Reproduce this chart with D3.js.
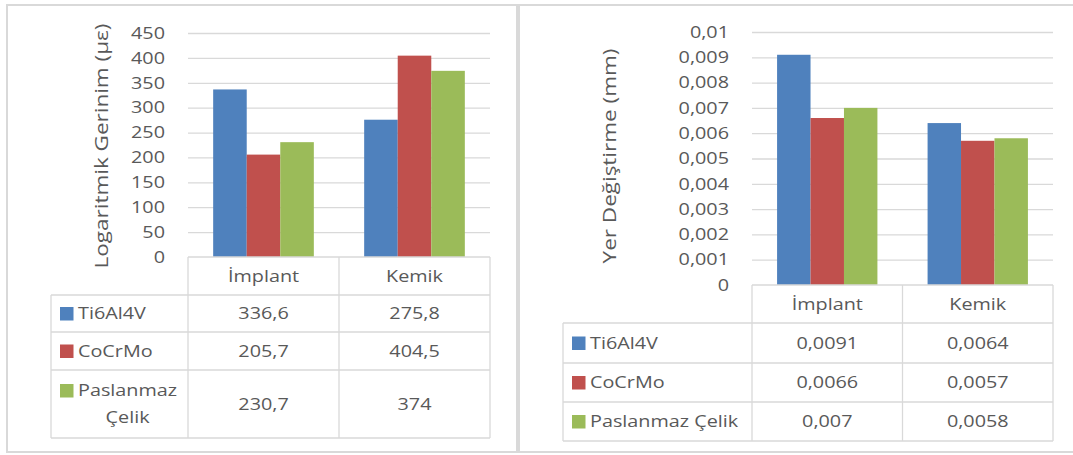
<!DOCTYPE html>
<html><head><meta charset="utf-8">
<script src="https://cdn.jsdelivr.net/npm/d3@7"></script>
<style>
html,body{margin:0;padding:0;background:#fff;}
svg{display:block;}
text{font-family:"Open Sans",sans-serif;fill:#595959;}
</style></head>
<body>
<svg id="chart" width="1073" height="455"></svg>
<script>
// ---- data ----
const categories = ["İmplant", "Kemik"];
const seriesNames = ["Ti6Al4V", "CoCrMo", "Paslanmaz Çelik"];
const seriesColors = ["#4f81bd", "#c0504d", "#9bbb59"];

const strainTi = [336.6, 275.8];
const strainCo = [205.7, 404.5];
const strainSS = [230.7, 374];
const strainTicks = [0, 50, 100, 150, 200, 250, 300, 350, 400, 450];
const strainTitle = "Logaritmik Gerinim (µε)";

const dispTi = [0.0091, 0.0064];
const dispCo = [0.0066, 0.0057];
const dispSS = [0.007, 0.0058];
const dispTicks = [0, 0.001, 0.002, 0.003, 0.004, 0.005, 0.006, 0.007, 0.008, 0.009, 0.01];
const dispTitle = "Yer Değiştirme (mm)";

// ---- helpers ----
const SX = 1.2;          // horizontal text stretch
const FS = 16.5;         // font size
const TFS = 18;          // title font size
const TSX = 1.25;        // title stretch along its length
const GRID = "#d9d9d9";
const comma = v => String(+v.toPrecision(6)).replace(".", ",");

const svg = d3.select("#chart");

function drawChart(cfg) {
  const g = svg.append("g");
  // frame
  g.append("rect").attr("x", cfg.frame[0]).attr("y", cfg.frame[1])
    .attr("width", cfg.frame[2] - cfg.frame[0]).attr("height", cfg.frame[3] - cfg.frame[1])
    .attr("fill", "none").attr("stroke", GRID).attr("stroke-width", 2);

  const x = d3.scaleBand().domain(categories).range([cfg.x0, cfg.x1]);
  const xs = d3.scaleBand().domain(seriesNames).range([0, x.bandwidth()])
    .paddingInner(0).paddingOuter(0.75);
  const y = d3.scaleLinear().domain([0, d3.max(cfg.ticks)]).range([cfg.yBot, cfg.yTop]);

  // axis with gridlines
  const ax = g.append("g").attr("transform", `translate(${cfg.x0},0)`)
    .call(d3.axisLeft(y).tickValues(cfg.ticks).tickSize(-(cfg.x1 - cfg.x0))
      .tickPadding(0).tickFormat(comma));
  ax.select(".domain").remove();
  ax.selectAll(".tick line").attr("stroke", GRID).attr("stroke-width", 1.3)
    .attr("opacity", d => d === 0 ? 0 : 1);
  ax.selectAll(".tick text").attr("x", null)
    .attr("transform", `translate(-23,0) scale(${SX},1)`)
    .style("font-size", FS + "px").attr("fill", "#595959").attr("font-family", null);

  // bars
  const series = cfg.values.map((vals, i) => ({ name: seriesNames[i], color: seriesColors[i], vals }));
  series.forEach(s => {
    g.append("g").selectAll("rect").data(categories.map((c, j) => ({ c, v: s.vals[j] })))
      .join("rect")
      .attr("x", d => x(d.c) + xs(s.name))
      .attr("width", xs.bandwidth())
      .attr("y", d => y(d.v))
      .attr("height", d => y(0) - y(d.v))
      .attr("fill", s.color);
  });

  // y title
  g.append("text")
    .attr("transform", `translate(${cfg.titleX},${cfg.titleY}) rotate(-90) scale(${TSX},1)`)
    .attr("text-anchor", "middle").attr("dy", "0.35em")
    .style("font-size", TFS + "px").text(cfg.title);

  // data table
  const r = cfg.rows;
  const t = g.append("g").attr("stroke", GRID).attr("stroke-width", 1.3).attr("fill", "none");
  t.append("line").attr("x1", cfg.x0).attr("x2", cfg.x1).attr("y1", r[0]).attr("y2", r[0]);
  for (let i = 1; i < r.length; i++)
    t.append("line").attr("x1", cfg.tableLeft).attr("x2", cfg.x1).attr("y1", r[i]).attr("y2", r[i]);
  t.append("line").attr("x1", cfg.tableLeft).attr("x2", cfg.tableLeft).attr("y1", r[1]).attr("y2", r[r.length - 1]);
  [cfg.x0, ...categories.map(c => x(c) + x.bandwidth())].forEach(xx =>
    t.append("line").attr("x1", xx).attr("x2", xx).attr("y1", r[0]).attr("y2", r[r.length - 1]));

  const txt = (px, py, s, anchor) => g.append("text")
    .attr("transform", `translate(${px},${py}) scale(${SX},1)`)
    .attr("text-anchor", anchor || "middle").attr("dy", "0.35em")
    .style("font-size", FS + "px").text(s);

  categories.forEach(c => txt(x(c) + x.bandwidth() / 2, (r[0] + r[1]) / 2, c));

  series.forEach((s, i) => {
    const top = r[i + 1], bot = r[i + 2], mid = (top + bot) / 2;
    const textX = cfg.tableLeft + 27;
    const avail = cfg.x0 - textX - 4;
    const probe = txt(0, 0, s.name, "start");
    const w = probe.node().getComputedTextLength() * SX;
    probe.remove();
    let lines = [s.name];
    if (w > avail) lines = s.name.split(" ");
    const lh = 27;
    const firstY = mid - (lines.length - 1) * lh / 2;
    g.append("rect").attr("x", cfg.tableLeft + 9).attr("y", firstY - 6.5)
      .attr("width", 13.5).attr("height", 13.5).attr("fill", s.color);
    if (lines.length === 1) {
      txt(textX, firstY, lines[0], "start");
    } else {
      const ws = lines.map(l => { const p = txt(0, 0, l, "start"); const ww = p.node().getComputedTextLength() * SX; p.remove(); return ww; });
      const cx = textX + d3.max(ws) / 2;
      lines.forEach((l, k) => txt(cx, firstY + k * lh, l, "middle"));
    }
    categories.forEach((c, j) => txt(x(c) + x.bandwidth() / 2, mid, comma(s.vals[j])));
  });
}

drawChart({
  frame: [7, 5, 517, 452],
  x0: 188, x1: 490, yTop: 33, yBot: 257,
  ticks: strainTicks, values: [strainTi, strainCo, strainSS],
  title: strainTitle, titleX: 102, titleY: 146,
  tableLeft: 51, rows: [257, 295, 332, 370, 438]
});

drawChart({
  frame: [519, 5, 1090, 452],
  x0: 752, x1: 1053, yTop: 32, yBot: 285,
  ticks: dispTicks, values: [dispTi, dispCo, dispSS],
  title: dispTitle, titleX: 610, titleY: 156,
  tableLeft: 563, rows: [285, 323, 363, 402, 441]
});
</script>
</body></html>
